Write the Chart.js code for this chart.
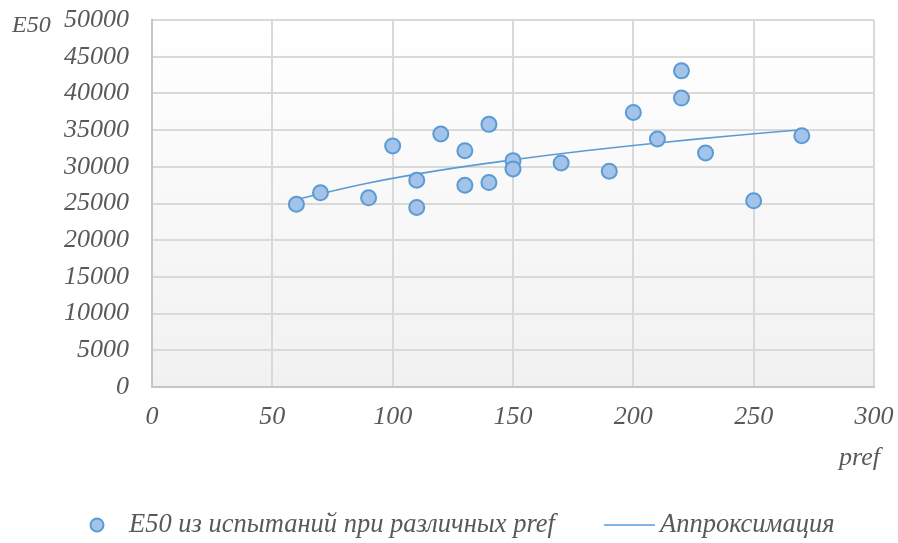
<!DOCTYPE html>
<html>
<head>
<meta charset="utf-8">
<script src="https://cdn.jsdelivr.net/npm/chart.js@4.4.1/dist/chart.umd.min.js"></script>
<style>
  html, body { margin: 0; padding: 0; background: #fff; }
  #wrap { width: 898px; height: 543px; position: relative; }
</style>
</head>
<body>
<div id="wrap"><canvas id="chart"></canvas></div>
<script>
// experimental points: pref vs E50
const prefValues = [60, 70, 90, 100, 110, 110, 120, 130, 130, 140, 140, 150, 150,
                    170, 190, 200, 210, 220, 220, 230, 250, 270];
const e50Values  = [24900, 26450, 25770, 32840, 28170, 24460, 34470, 32200, 27490, 35780, 27850, 30840, 29710,
                    30530, 29390, 37410, 33790, 43070, 39360, 31890, 25370, 34240];

// approximation curve
const fitPref = [60, 90, 120, 150, 180, 210, 240, 270];
const fitE50  = [25540, 27800, 29550, 30950, 32180, 33250, 34200, 35050];

const legendLabels = ['E50 из испытаний при различных pref', 'Аппроксимация'];
const xTitle = 'pref';
const yTitle = 'E50';

const FONT = '"Liberation Serif", "Times New Roman", serif';
const TXT  = '#595959';
const BLUE = '#5b9bd5';
const FILL = '#a3c3e8';

const scatterPts = prefValues.map((x, i) => ({ x, y: e50Values[i] }));
const fitPts     = fitPref.map((x, i) => ({ x, y: fitE50[i] }));

// gradient behind plot area
const plotBg = {
  id: 'plotBg',
  beforeDraw(chart) {
    const { ctx, chartArea: a } = chart;
    const g = ctx.createLinearGradient(0, a.top, 0, a.bottom);
    g.addColorStop(0, '#ffffff');
    g.addColorStop(1, '#f1f1f1');
    ctx.save();
    ctx.fillStyle = g;
    ctx.fillRect(a.left, a.top, a.right - a.left, a.bottom - a.top);
    ctx.restore();
  }
};

// axis titles + legend (Excel style)
const extras = {
  id: 'extras',
  afterDraw(chart) {
    const { ctx } = chart;
    ctx.save();
    ctx.fillStyle = TXT;
    ctx.textBaseline = 'middle';
    ctx.textAlign = 'left';
    ctx.font = 'italic 24px ' + FONT;
    ctx.fillText(yTitle, 12, 26);
    ctx.textAlign = 'right';
    ctx.font = 'italic 26px ' + FONT;
    ctx.fillText(xTitle, 880, 458);

    // legend
    const ly = 525;
    ctx.beginPath();
    ctx.arc(97, ly, 6.5, 0, Math.PI * 2);
    ctx.fillStyle = FILL;
    ctx.fill();
    ctx.lineWidth = 2;
    ctx.strokeStyle = BLUE;
    ctx.stroke();

    ctx.fillStyle = TXT;
    ctx.textAlign = 'left';
    ctx.font = 'italic 26.5px ' + FONT;
    ctx.fillText(legendLabels[0], 129, ly);

    ctx.beginPath();
    ctx.moveTo(604, ly);
    ctx.lineTo(655, ly);
    ctx.lineWidth = 1.6;
    ctx.strokeStyle = BLUE;
    ctx.stroke();
    ctx.fillText(legendLabels[1], 660, ly);
    ctx.restore();
  }
};

new Chart(document.getElementById('chart'), {
  type: 'scatter',
  data: {
    datasets: [
      {
        label: legendLabels[0],
        data: scatterPts,
        backgroundColor: FILL,
        borderColor: BLUE,
        borderWidth: 2,
        pointRadius: 7.5,
        order: 1
      },
      {
        label: legendLabels[1],
        type: 'line',
        data: fitPts,
        borderColor: BLUE,
        borderWidth: 1.6,
        pointRadius: 0,
        tension: 0.4,
        fill: false,
        order: 2
      }
    ]
  },
  options: {
    responsive: true, maintainAspectRatio: false, animation: false,
    layout: { padding: { top: 20, right: 24, bottom: 100, left: 0 } },
    plugins: { legend: { display: false }, tooltip: { enabled: false } },
    scales: {
      x: {
        type: 'linear', min: 0, max: 300,
        ticks: { stepSize: 50, color: TXT, padding: 15, font: { family: FONT, size: 26, style: 'italic' },
                 callback: v => String(v) },
        grid: { color: '#d9d9d9', lineWidth: 2, drawTicks: false },
        border: { color: '#c6c6c6', width: 2 },
        afterFit: s => { s.height = 56; s.paddingLeft = 0; s.paddingRight = 0; }
      },
      y: {
        min: 0, max: 50000,
        ticks: { stepSize: 5000, color: TXT, padding: 23, font: { family: FONT, size: 26, style: 'italic' },
                 callback: v => String(v) },
        grid: { color: '#d9d9d9', lineWidth: 2, drawTicks: false },
        border: { color: '#c6c6c6', width: 2 },
        afterFit: s => { s.width = 152; s.paddingTop = 0; s.paddingBottom = 0; }
      }
    }
  },
  plugins: [plotBg, extras]
});
</script>
</body>
</html>
